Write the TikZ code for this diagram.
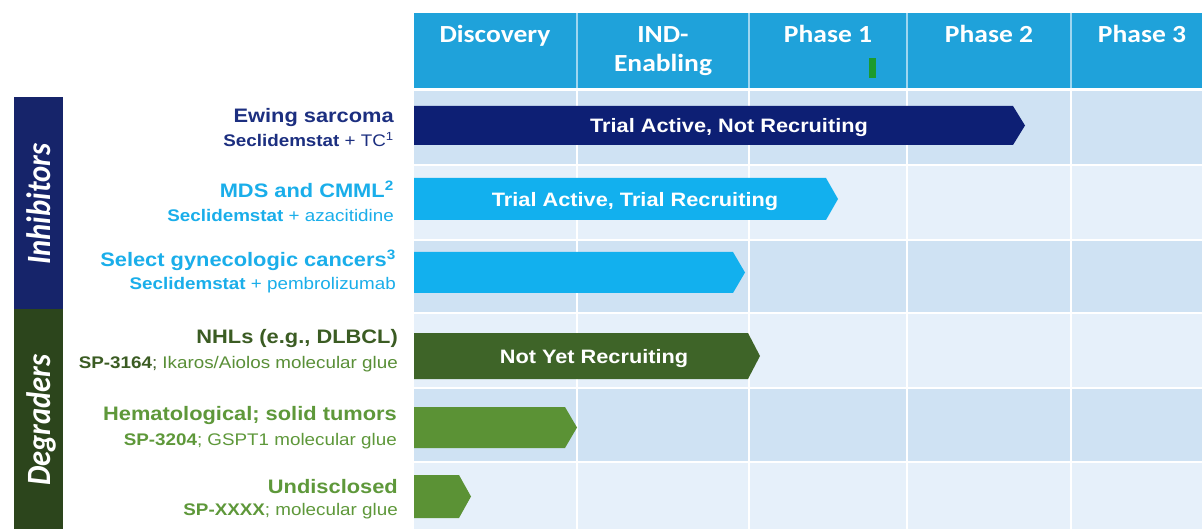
\documentclass[tikz,border=0pt]{standalone}
\usepackage{fontspec}
\setmainfont{Liberation Sans}[FakeStretch=1.12]
\newfontfamily\headfont{Carlito}[FakeStretch=1.12]
\newfontfamily\sidefont{Carlito}[FakeStretch=0.9]

\definecolor{hdr}{HTML}{1FA2DA}
\definecolor{hdrline}{HTML}{9ED6F0}
\definecolor{celldark}{HTML}{CFE2F3}
\definecolor{celllight}{HTML}{E6F0FA}
\definecolor{navybar}{HTML}{0D1F74}
\definecolor{navytext}{HTML}{1C2F80}
\definecolor{skybar}{HTML}{12B0EE}
\definecolor{skytext}{HTML}{1AAEEA}
\definecolor{forestbar}{HTML}{3E6428}
\definecolor{foresttext}{HTML}{3B5C23}
\definecolor{leafbar}{HTML}{5B9235}
\definecolor{leaftext}{HTML}{5E983A}
\definecolor{inhibband}{HTML}{16246A}
\definecolor{degrband}{HTML}{2C451C}
\definecolor{phasemark}{HTML}{1C9B2D}

% chevron bar: colour, tip x, top y, bottom y
\newcommand\stagebar[4]{%
  \fill[#1] (414,#3) -- ({#2-12},#3) -- (#2,{(#3+#4)/2}) -- ({#2-12},#4) -- (414,#4) -- cycle;}

\tikzset{
  headtext/.style={text=white, font=\headfont\bfseries\fontsize{24.6}{29}\selectfont, anchor=base, inner sep=0pt},
  titletext/.style={font=\bfseries\fontsize{19.5}{22}\selectfont, anchor=base east, inner sep=0pt},
  subtext/.style={font=\fontsize{16.8}{19}\selectfont, anchor=base east, inner sep=0pt},
  bartext/.style={text=white, font=\bfseries\fontsize{19.4}{22}\selectfont, anchor=base, inner sep=0pt},
  sidetext/.style={text=white, font=\sidefont\bfseries\itshape\fontsize{34}{36}\selectfont, rotate=90, anchor=base, inner sep=0pt},
}

\begin{document}
\begin{tikzpicture}[x=1pt, y=-1pt]
\useasboundingbox (0,0) rectangle (1202,529);
\fill[white] (0,0) rectangle (1202,529);

% grid of stage cells
\foreach \ya/\yb/\c in {91/164.2/celldark, 165.8/239.2/celllight, 240.8/312.2/celldark,
                        313.8/387.2/celllight, 388.8/461.2/celldark, 462.8/530/celllight} {
  \foreach \xa/\xb in {414/576.2, 577.8/748.2, 749.8/906.2, 907.8/1070.2, 1071.8/1203}
    \fill[\c] (\xa,\ya) rectangle (\xb,\yb);
}

% header row
\fill[hdr] (414,13) rectangle (1203,88);
\foreach \x in {577,749,907,1071}
  \draw[hdrline, line width=1.5pt] (\x,13) -- (\x,88);
\node[headtext] (hdisc) at (495,43) {Discovery};
\node[headtext] (hind1) at (663,43) {IND-};
\node[headtext] (hind2) at (663,72) {Enabling};
\node[headtext] (hph1) at (828,43) {Phase 1};
\node[headtext] (hph2) at (989,43) {Phase 2};
\node[headtext] (hph3) at (1142,43) {Phase 3};
\fill[phasemark] (869,58) rectangle (876,78);

% side bands
\fill[inhibband] (14,97) rectangle (63,309);
\fill[degrband] (14,309) rectangle (63,530);
\node[sidetext] (inhib) at (50,204) {Inhibitors};
\node[sidetext] (degr) at (50,420) {Degraders};

% programme labels
\node[titletext, text=navytext] (t1) at (394,123) {Ewing sarcoma};
\node[subtext, text=navytext] (s1) at (394,147) {\textbf{Seclidemstat} + TC\textsuperscript{1}};
\node[titletext, text=skytext] (t2) at (394,198) {MDS and CMML\textsuperscript{2}};
\node[subtext, text=skytext] (s2) at (394,222) {\textbf{Seclidemstat} + azacitidine};
\node[titletext, text=skytext] (t3) at (396,267) {Select gynecologic cancers\textsuperscript{3}};
\node[subtext, text=skytext] (s3) at (396,290) {\textbf{Seclidemstat} + pembrolizumab};
\node[titletext, text=foresttext] (t4) at (398,343) {NHLs (e.g., DLBCL)};
\node[subtext, text=foresttext] (s4) at (398,368) {\textbf{SP-3164}; \color{leaftext!85!foresttext}Ikaros/Aiolos molecular glue};
\node[titletext, text=leaftext] (t5) at (397,420) {Hematological; solid tumors};
\node[subtext, text=leaftext] (s5) at (397,445) {\textbf{SP-3204}; GSPT1 molecular glue};
\node[titletext, text=leaftext] (t6) at (398,493) {Undisclosed};
\node[subtext, text=leaftext] (s6) at (398,515) {\textbf{SP-XXXX}; molecular glue};

% progress bars
\stagebar{navybar}{1025}{106}{145}
\stagebar{skybar}{838}{178}{220}
\stagebar{skybar}{745}{252}{293}
\stagebar{forestbar}{760}{333}{379}
\stagebar{leafbar}{577}{407}{448}
\stagebar{leafbar}{471}{475}{518}
\node[bartext] (b1) at (729,133) {Trial Active, Not Recruiting};
\node[bartext] (b2) at (635,207) {Trial Active, Trial Recruiting};
\node[bartext] (b4) at (594,363) {Not Yet Recruiting};
\end{tikzpicture}
\end{document}
